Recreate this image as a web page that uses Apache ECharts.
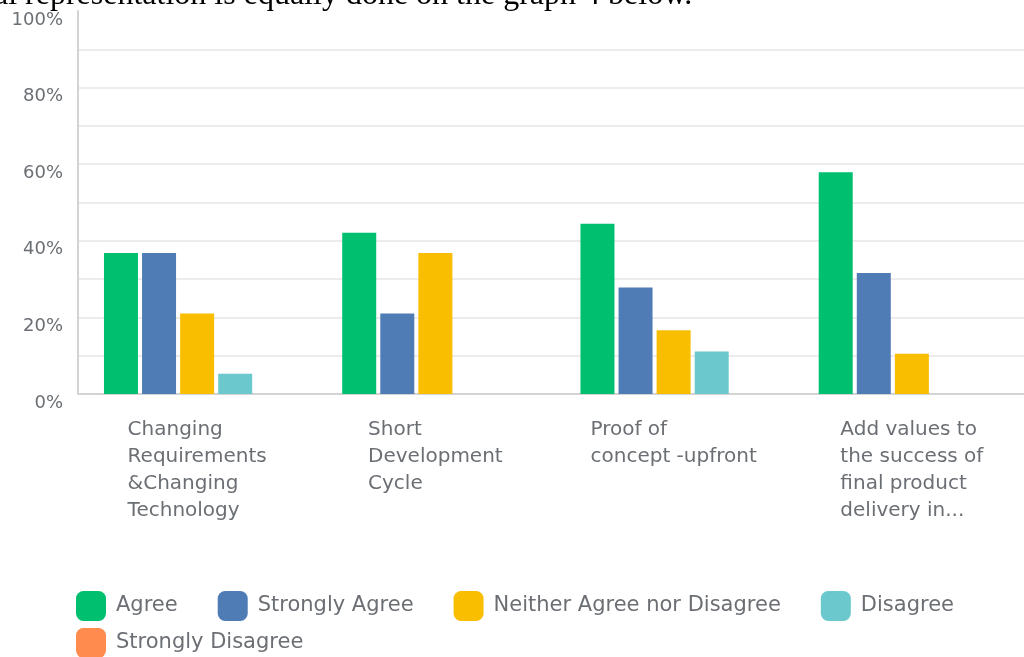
<!DOCTYPE html>
<html>
<head>
<meta charset="utf-8">
<script src="https://cdn.jsdelivr.net/npm/echarts@6/dist/echarts.min.js"></script>
<style>
  html, body { margin: 0; padding: 0; background: #fff; }
  #chart { width: 1024px; height: 657px; }
</style>
</head>
<body>
<div id="chart"></div>
<script>
// categories (line breaks as shown under the axis)
const categories = [
  'Changing\nRequirements\n&Changing\nTechnology',
  'Short\nDevelopment\nCycle',
  'Proof of\nconcept -upfront',
  'Add values to\nthe success of\nfinal product\ndelivery in...'
]
const seriesNames = ['Agree', 'Strongly Agree', 'Neither Agree nor Disagree', 'Disagree', 'Strongly Disagree']
const agree = [36.84, 42.11, 44.44, 57.89]
const stronglyAgree = [36.84, 21.05, 27.78, 31.58]
const neither = [21.05, 36.84, 16.67, 10.53]
const disagree = [5.26, 0, 11.11, 0]
const stronglyDisagree = [0, 0, 0, 0]
const yTicks = [0, 20, 40, 60, 80, 100]

const colors = ['#00bf6f', '#507cb6', '#f9be00', '#6bc8cd', '#ff8b4f']
const textGray = '#6b6f74'
const sansFont = 'DejaVu Sans'

const chart = echarts.init(document.getElementById('chart'))

function makeSeries() {
  const values = [agree, stronglyAgree, neither, disagree, stronglyDisagree]
  return values.map((data, i) => ({
    name: seriesNames[i],
    type: 'bar',
    data: data,
    barWidth: 34,
    barGap: '12%',
    itemStyle: { color: colors[i] },
    emphasis: { disabled: true }
  }))
}

const legendText = { color: textGray, fontFamily: sansFont, fontSize: 21, padding: [0, 0, 0, 5] }

chart.setOption({
  color: colors,
  animation: false,
  graphic: [
    // line of document text above the chart, cut off by the chart picture
    {
      type: 'text',
      z: -2,
      left: -6,
      top: -20,
      style: {
        text: 'al representation is equally done on the graph 4 below.',
        font: '32px "Liberation Serif"',
        fill: '#000'
      }
    },
    {
      type: 'rect',
      z: -1,
      shape: { x: 0, y: 11, width: 1024, height: 12 },
      style: { fill: '#fff' }
    }
  ],
  grid: {
    left: 78,
    top: 11,
    width: 953,
    height: 383,
    containLabel: false,
    outerBoundsMode: 'none'
  },
  legend: [
    {
      data: seriesNames.slice(0, 4),
      left: 76,
      top: 591,
      padding: 0,
      itemWidth: 30,
      itemHeight: 30,
      itemGap: 40,
      icon: 'roundRect',
      textStyle: legendText,
      selectedMode: false
    },
    {
      data: seriesNames.slice(4),
      left: 76,
      top: 628,
      padding: 0,
      itemWidth: 30,
      itemHeight: 30,
      icon: 'roundRect',
      textStyle: legendText,
      selectedMode: false
    }
  ],
  xAxis: {
    type: 'category',
    data: categories,
    axisLine: { lineStyle: { color: '#d3d3d3', width: 2 } },
    axisTick: { show: false },
    axisLabel: {
      interval: 0,
      margin: 22,
      color: textGray,
      fontFamily: sansFont,
      fontSize: 20,
      lineHeight: 27,
      align: 'center',
      formatter: (v) => v.split('\n').map(s => '{l|' + s + '}').join('\n'),
      rich: {
        l: { align: 'left', color: textGray, fontFamily: sansFont, fontSize: 20, lineHeight: 27 }
      }
    }
  },
  yAxis: {
    type: 'value',
    min: 0,
    max: 100,
    interval: 10,
    axisLine: { show: true, lineStyle: { color: '#d3d3d3', width: 2 } },
    axisTick: { show: false },
    splitLine: { showMaxLine: false, lineStyle: { color: '#ececec', width: 2 } },
    axisLabel: {
      margin: 15,
      color: textGray,
      fontFamily: sansFont,
      fontSize: 18,
      verticalAlign: 'top',
      formatter: (v) => yTicks.includes(v) ? v + '%' : ''
    }
  },
  series: makeSeries()
})
</script>
</body>
</html>
